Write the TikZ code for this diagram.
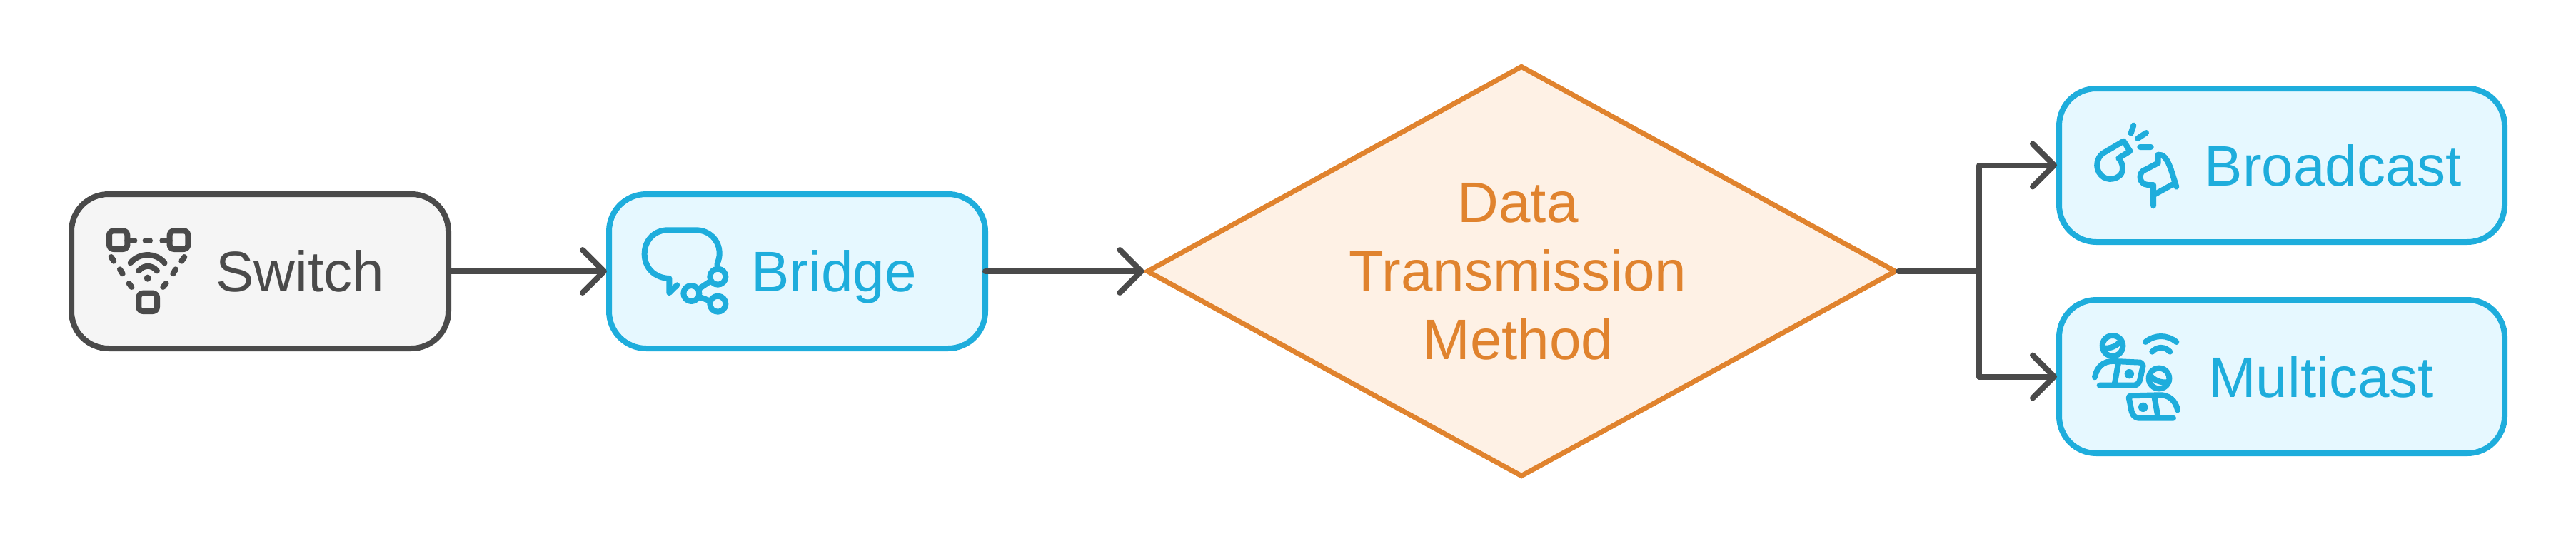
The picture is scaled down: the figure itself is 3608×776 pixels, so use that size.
\documentclass[tikz,border=0pt]{standalone}
\usepackage{fontspec}
\setmainfont{Liberation Sans}
\usetikzlibrary{arrows.meta,shapes.geometric}
\definecolor{gline}{HTML}{4A4A4A}
\definecolor{gfill}{HTML}{F5F5F5}
\definecolor{bline}{HTML}{1EADDC}
\definecolor{bfill}{HTML}{E6F8FF}
\definecolor{oline}{HTML}{E0832E}
\definecolor{ofill}{HTML}{FEF1E5}
\tikzset{
  boxbase/.style={draw,line width=4pt,rounded corners=26pt,outer sep=0pt,inner sep=0pt},
  graybox/.style={boxbase,draw=gline,fill=gfill},
  bluebox/.style={boxbase,draw=bline,fill=bfill},
  decision/.style={diamond,aspect=1.823,draw=oline,fill=ofill,line width=3.5pt,inner sep=0pt,
    minimum width=525pt,minimum height=288pt,text=oline,align=center,
    font=\fontsize{40}{48}\selectfont},
  label/.style={anchor=base,inner sep=0pt,font=\fontsize{40}{48}\selectfont},
  conn/.style={draw=gline,line width=4pt,line cap=round,line join=round},
  tip/.style={-{Straight Barb[round,length=15pt,width=30pt]}},
  icon/.style={line width=4pt,line cap=round,line join=round,x=0.16667pt,y=-0.16667pt},
}
\begin{document}
\begin{tikzpicture}[x=0.5pt,y=-0.5pt]
\useasboundingbox (0,0) rectangle (3608,776);
% nodes
\node[graybox,minimum width=264pt,minimum height=108pt] (sw) at (364,380) {};
\node[bluebox,minimum width=263.5pt,minimum height=108pt] (br) at (1116.5,380) {};
\node[decision] (dm) at (2131,380) {Data\kern5pt\\Transmission\kern5pt\\Method\kern5pt};
\node[bluebox,minimum width=312pt,minimum height=107.5pt] (bc) at (3196,231.5) {};
\node[bluebox,minimum width=312pt,minimum height=107.5pt] (mc) at (3196,527.5) {};
\coordinate (jn) at (2772,380);
% labels
\node[label,text=gline] (swt) at (420,408) {Switch};
\node[label,text=bline] (brt) at (1168,408) {Bridge};
\node[label,text=bline] (bct) at (3268,260) {Broadcast};
\node[label,text=bline] (mct) at (3251,556) {Multicast};
% connectors
\draw[conn,tip,shorten >=1.5pt] (sw.east) -- (br.west);
\draw[conn,tip] (br.east) -- (dm.west);
\draw[conn,tip,shorten >=1.5pt] (dm.east) -- (jn) |- (bc.west);
\draw[conn,tip,shorten >=1.5pt] (dm.east) -- (jn) |- (mc.west);
% switch icon
\begin{scope}[shift={(140,300)},icon,draw=gline]
  \draw[rounded corners=3pt] (39,70) rectangle (115,147);
  \draw[rounded corners=3pt] (293,70) rectangle (370,147);
  \draw[rounded corners=3pt] (163,332) rectangle (240,408);
  \draw (115,112) -- (145,112) (191,112) -- (210,112) (262,112) -- (293,112);
  \draw (47,180) -- (58,197) (84,232) -- (95,250) (122,291) -- (133,306);
  \draw (355,180) -- (343,197) (318,232) -- (307,250) (278,291) -- (265,306);
  \draw (128,205) .. controls (165,160) and (235,160) .. (272,205);
  \draw (163,238) .. controls (185,212) and (217,212) .. (240,238);
  \fill[gline] (200,269) circle[radius=15];
\end{scope}
% bridge icon
\begin{scope}[shift={(885,305)},icon,draw=bline]
  \draw (358,197) .. controls (365,175) and (368,165) .. (368,150)
     .. controls (368,95) and (325,52) .. (270,52) -- (150,52)
     .. controls (95,52) and (53,95) .. (53,152)
     .. controls (53,210) and (95,253) .. (157,255) -- (157,315) -- (190,283);
  \draw (250,318) circle[radius=33] (361,248) circle[radius=33] (361,362) circle[radius=33];
  \draw (280,300) -- (332,265) (282,332) -- (330,350);
\end{scope}
% broadcast icon
\begin{scope}[shift={(2920,160)},icon,draw=bline]
  \draw (205,47) -- (194,80) (258,78) -- (222,102) (232,138) -- (278,138);
  \draw (142,185) -- (190,155) -- (163,113) -- (75,165)
     .. controls (50,185) and (45,220) .. (60,245)
     .. controls (80,280) and (125,280) .. (150,255)
     .. controls (165,235) and (160,205) .. (142,185);
  \draw (385,305) .. controls (365,245) and (350,165) .. (308,170) -- (308,205) -- (245,238)
     .. controls (225,252) and (228,295) .. (265,297) -- (288,297) -- (288,385);
  \draw (288,340) -- (375,292);
\end{scope}
% multicast icon
\begin{scope}[shift={(2920,455)},icon,draw=bline]
  \draw (117,88) circle[radius=43];
  \draw (80,98) .. controls (110,100) and (135,88) .. (153,66);
  \draw (42,220) .. controls (50,180) and (75,150) .. (125,153) -- (235,158) -- (245,170)
     -- (232,230) .. controls (228,245) and (220,254) .. (205,254) -- (62,254);
  \draw (140,165) -- (125,250);
  \fill[bline] (187,206) circle[radius=20];
  \draw (312,225) circle[radius=43];
  \draw (275,213) .. controls (295,235) and (320,245) .. (352,240);
  \draw (390,358) .. controls (382,320) and (355,292) .. (310,295) -- (190,298) -- (185,305)
     -- (197,365) .. controls (203,385) and (215,392) .. (230,392) -- (372,392);
  \draw (292,300) -- (307,385);
  \fill[bline] (245,346) circle[radius=20];
  \draw (255,72) .. controls (295,40) and (345,40) .. (385,72);
  \draw (283,113) .. controls (305,90) and (335,90) .. (358,113);
\end{scope}
\end{tikzpicture}
\end{document}
